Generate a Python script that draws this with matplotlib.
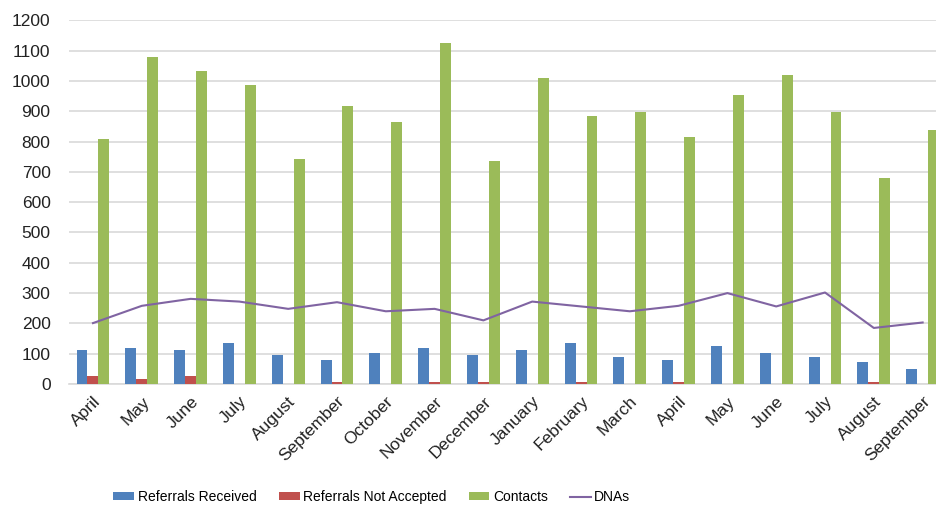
import matplotlib
matplotlib.use("Agg")
import matplotlib.pyplot as plt
import numpy as np

months = ["April", "May", "June", "July", "August", "September", "October",
          "November", "December", "January", "February", "March", "April",
          "May", "June", "July", "August", "September"]
referrals_received = [111, 119, 111, 134, 96, 80, 103, 119, 96, 111, 135, 88,
                      80, 126, 103, 88, 73, 50]
referrals_not_accepted = [25, 17, 25, 0, 0, 8, 0, 8, 8, 0, 8, 0, 8, 0, 0, 0, 8, 0]
contacts = [808, 1080, 1033, 987, 744, 916, 863, 1126, 737, 1009, 886, 899,
            816, 955, 1018, 899, 680, 838]
dnas = [201, 258, 281, 272, 248, 270, 240, 248, 210, 272, 256, 240, 258, 300,
        256, 302, 185, 203]

plt.rcParams['font.family'] = ['Liberation Sans', 'DejaVu Sans']

fig = plt.figure(figsize=(9.37, 5.11), dpi=100)
ax = fig.add_axes([0.0732, 0.2485, 0.9375, 0.7117])

x = np.arange(len(months))
w = 0.225
b1 = ax.bar(x - w, referrals_received, w, color="#4F81BD", label="Referrals Received", zorder=3)
b2 = ax.bar(x, referrals_not_accepted, w, color="#C0504D", label="Referrals Not Accepted", zorder=3)
b3 = ax.bar(x + w, contacts, w, color="#9BBB59", label="Contacts", zorder=3)
l1, = ax.plot(x, dnas, color="#8064A2", lw=1.5, label="DNAs", zorder=4)

ax.set_xlim(-0.5, len(months) - 0.5)
ax.set_ylim(0, 1200)
ax.set_yticks(np.arange(0, 1201, 100))
ax.yaxis.grid(True, color="#d9d9d9", lw=1.2, zorder=0)
ax.set_axisbelow(True)
for s in ["top", "right", "left"]:
    ax.spines[s].set_visible(False)
ax.spines["bottom"].set_color("#d9d9d9")
ax.spines["bottom"].set_linewidth(1.2)
ax.tick_params(axis="both", length=0, labelsize=12.5, colors="#222222")
ax.tick_params(axis="y", pad=13)
ax.set_xticks(x)
ax.set_xticklabels(months, rotation=45, ha="right", rotation_mode="anchor")
ax.tick_params(axis="x", pad=7)

fig.legend([b1, b2, b3, l1], ["Referrals Received", "Referrals Not Accepted", "Contacts", "DNAs"],
           loc="center", bbox_to_anchor=(0.397, 0.027), ncol=4,
           frameon=False, fontsize=10, handlelength=1.5, handleheight=0.5,
           columnspacing=1.6, handletextpad=0.25)

fig.savefig("out.png", dpi=100)
